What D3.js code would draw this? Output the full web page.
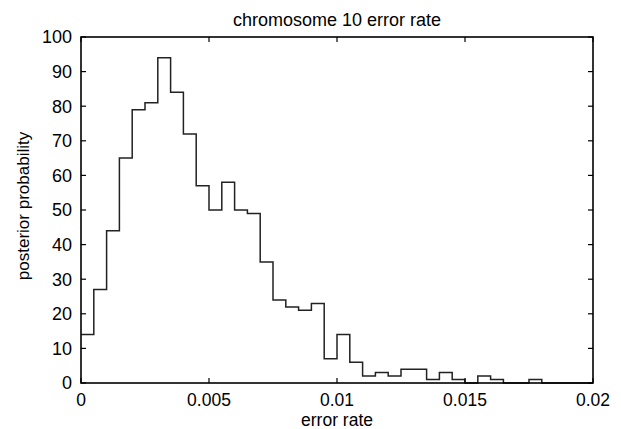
<!DOCTYPE html>
<html><head><meta charset="utf-8">
<script src="https://cdn.jsdelivr.net/npm/d3@7"></script>
<style>body{margin:0;background:#fff}svg{display:block}text{font-family:"Liberation Sans",Arial,Helvetica,sans-serif;fill:#000}</style>
</head><body>
<svg id="c" width="621" height="429"></svg>
<script>
const binWidth = 0.0005;
const binStart = 0;
const counts = [14,27,44,65,79,81,94,84,72,57,50,58,50,49,35,24,22,21,23,7,14,6,2,3,2,4,4,1,3,1,0,2,1,0,0,1,0,0,0,0];
const xTicks = [0,0.005,0.01,0.015,0.02];
const xTickLabels = ["0","0.005","0.01","0.015","0.02"];
const yTicks = [0,10,20,30,40,50,60,70,80,90,100];
const title = "chromosome 10 error rate";
const xLabel = "error rate";
const yLabel = "posterior probability";

const svg = d3.select("#c");
const L = 81, R = 593, T = 37, B = 383;
const x = d3.scaleLinear().domain([0,0.02]).range([L,R]);
const y = d3.scaleLinear().domain([0,100]).range([B,T]);

// histogram outline (step)
const pts = [];
counts.forEach((c,i)=>{
  const x0 = binStart + i*binWidth, x1 = x0 + binWidth;
  pts.push([x0,c],[x1,c]);
});
const line = d3.line().x(d=>x(d[0])).y(d=>y(d[1]));
svg.append("path").attr("d", line(pts)).attr("fill","none").attr("stroke","#222").attr("stroke-width",1.5);

// frame
svg.append("rect").attr("x",L).attr("y",T).attr("width",R-L).attr("height",B-T)
  .attr("fill","none").attr("stroke","#000").attr("stroke-width",1.6);

const tl = 5;
const fs = 18;
// x ticks
xTicks.forEach((t,i)=>{
  svg.append("line").attr("x1",x(t)).attr("x2",x(t)).attr("y1",B).attr("y2",B-tl).attr("stroke","#000").attr("stroke-width",1.2);
  svg.append("line").attr("x1",x(t)).attr("x2",x(t)).attr("y1",T).attr("y2",T+tl).attr("stroke","#000").attr("stroke-width",1.2);
  svg.append("text").attr("x",x(t)).attr("y",406).attr("text-anchor","middle").attr("font-size",17.5).text(xTickLabels[i]);
});
// y ticks
yTicks.forEach(t=>{
  svg.append("line").attr("x1",L).attr("x2",L+tl).attr("y1",y(t)).attr("y2",y(t)).attr("stroke","#000").attr("stroke-width",1.2);
  svg.append("line").attr("x1",R).attr("x2",R-tl).attr("y1",y(t)).attr("y2",y(t)).attr("stroke","#000").attr("stroke-width",1.2);
  svg.append("text").attr("x",L-9).attr("y",y(t)).attr("dy","0.35em").attr("text-anchor","end").attr("font-size",fs).text(t);
});

svg.append("text").attr("x",337).attr("y",26).attr("text-anchor","middle").attr("font-size",fs).text(title);
svg.append("text").attr("x",337).attr("y",426).attr("text-anchor","middle").attr("font-size",17.5).text(xLabel);
svg.append("text").attr("transform","translate(29,206) rotate(-90)").attr("text-anchor","middle").attr("font-size",17).text(yLabel);
</script>
</body></html>
